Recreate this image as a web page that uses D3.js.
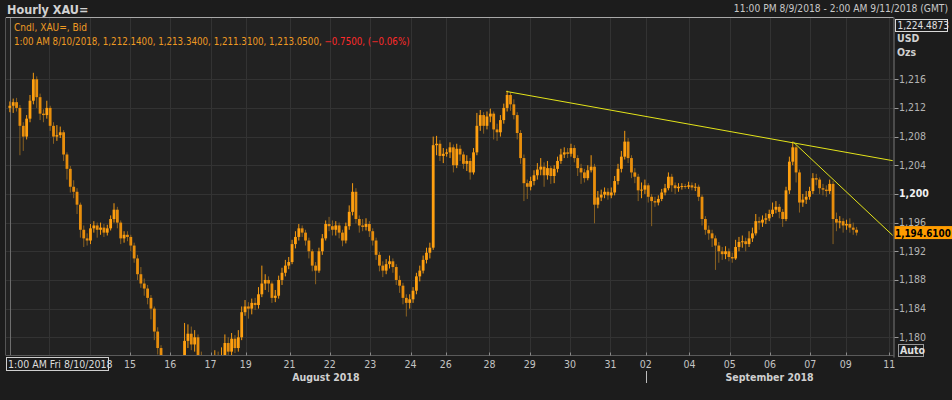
<!DOCTYPE html>
<html><head><meta charset="utf-8">
<script src="https://cdn.jsdelivr.net/npm/d3@7"></script>
<style>
html,body{margin:0;padding:0;background:#1c1c1c;}
svg{display:block;font-family:"DejaVu Sans Condensed","DejaVu Sans",sans-serif;}
</style></head><body>
<svg id="c" width="952" height="400"></svg>
<script>
// ---- data (2-hour candles) ----
const openP=[1212.0,1212.3,1212.8,1212.0,1209.5,1208.0,1210.5,1213.0,1216.0,1213.5,
1211.2,1211.0,1212.0,1209.5,1208.0,1208.2,1208.6,1205.5,1203.5,1201.0,
1200.3,1198.5,1195.0,1193.8,1193.5,1195.2,1195.6,1195.0,1195.3,1194.6,
1195.2,1196.5,1197.8,1196.0,1193.8,1194.3,1194.0,1192.8,1191.0,1188.8,
1187.5,1186.8,1185.5,1184.0,1180.8,1178.5,1176.5,1174.0,1172.0,1170.5,
1172.5,1174.0,1176.5,1179.5,1180.5,1179.0,1180.0,1177.5,1175.5,1174.5,
1176.0,1176.5,1177.0,1176.0,1177.2,1179.2,1178.0,1179.8,1178.5,1180.0,
1183.5,1184.3,1184.0,1184.8,1184.5,1186.0,1187.5,1188.0,1187.5,1185.5,
1185.8,1188.0,1189.0,1190.0,1190.5,1193.0,1194.0,1195.2,1194.6,1193.5,
1192.0,1190.0,1189.3,1192.0,1193.8,1195.8,1195.5,1195.0,1195.6,1194.6,
1193.5,1195.5,1197.5,1200.3,1196.5,1195.6,1195.4,1195.8,1194.8,1193.5,
1191.5,1190.0,1189.3,1190.2,1190.6,1189.8,1188.0,1187.2,1185.5,1184.8,
1185.3,1186.5,1188.5,1189.3,1190.8,1191.8,1192.5,1206.8,1207.0,1205.3,
1205.6,1205.8,1206.5,1204.0,1206.3,1205.5,1204.2,1204.6,1203.0,1205.8,
1209.5,1211.0,1209.5,1210.8,1211.2,1209.0,1208.6,1210.3,1212.0,1213.8,
1212.5,1211.0,1208.5,1205.0,1201.5,1201.0,1201.8,1202.6,1203.4,1203.8,
1202.6,1203.6,1202.5,1203.5,1204.6,1205.5,1205.8,1205.6,1206.4,1205.0,
1203.6,1203.0,1202.2,1203.3,1203.8,1198.5,1199.5,1199.9,1200.3,1199.8,
1200.2,1201.8,1203.5,1205.2,1207.3,1205.0,1203.0,1202.4,1200.5,1200.6,
1201.2,1199.6,1199.0,1198.8,1199.3,1200.2,1200.8,1202.4,1201.2,1200.8,
1201.0,1201.1,1201.0,1201.2,1200.9,1201.0,1199.6,1196.5,1195.0,1194.5,
1193.8,1192.8,1192.0,1191.6,1192.0,1191.2,1191.0,1192.6,1193.3,1193.4,
1193.0,1193.8,1194.5,1196.2,1196.0,1196.4,1196.6,1197.2,1197.8,1198.2,
1197.5,1196.5,1200.5,1204.5,1206.5,1203.0,1198.8,1199.2,1199.6,1200.4,
1202.2,1202.0,1200.8,1200.6,1200.4,1201.4,1196.5,1196.0,1196.2,1195.6,
1195.8,1195.3,1195.0];
const highP=[1212.9,1213.3,1213.4,1212.4,1210.0,1211.0,1213.8,1216.9,1216.4,1214.0,
1211.8,1213.0,1212.3,1210.0,1209.6,1209.4,1208.9,1205.8,1203.9,1201.9,
1200.8,1198.8,1195.6,1194.5,1195.8,1196.2,1196.0,1196.0,1195.8,1195.7,
1197.0,1198.7,1198.2,1196.3,1194.8,1194.8,1194.3,1193.2,1191.5,1189.8,
1188.2,1187.3,1185.9,1184.3,1181.4,1178.9,1177.0,1174.6,1172.8,1173.4,
1175.2,1177.3,1182.0,1181.8,1181.5,1181.0,1180.4,1178.0,1176.3,1176.8,
1177.4,1178.2,1178.0,1178.6,1180.4,1180.0,1180.6,1180.3,1181.0,1184.3,
1185.2,1184.9,1185.4,1185.5,1187.0,1190.0,1188.8,1188.5,1187.8,1186.6,
1188.6,1189.7,1190.8,1191.2,1193.6,1194.8,1195.8,1195.6,1195.0,1193.9,
1192.3,1190.5,1192.5,1194.4,1196.3,1196.8,1196.3,1196.2,1196.0,1195.0,
1196.0,1198.4,1201.5,1200.8,1197.0,1196.5,1196.6,1196.2,1195.2,1193.9,
1191.9,1190.6,1190.9,1191.4,1191.0,1190.2,1188.6,1187.6,1186.0,1186.0,
1187.0,1189.0,1190.0,1191.4,1192.5,1193.2,1208.0,1208.1,1207.5,1206.4,
1206.3,1207.2,1206.9,1207.0,1206.8,1205.9,1205.4,1205.0,1206.4,1211.3,
1211.7,1211.4,1211.5,1211.9,1211.5,1209.8,1211.0,1212.6,1214.4,1214.2,
1213.2,1211.4,1208.9,1205.5,1202.0,1202.4,1203.3,1204.3,1205.0,1204.4,
1204.6,1203.9,1204.0,1205.2,1206.3,1206.5,1206.4,1207.0,1206.8,1205.4,
1204.2,1203.5,1204.0,1205.4,1204.2,1200.4,1200.6,1200.9,1200.8,1200.9,
1202.5,1204.2,1206.0,1208.8,1207.8,1205.4,1203.6,1202.8,1201.6,1202.0,
1201.5,1200.0,1199.6,1199.8,1200.7,1201.4,1203.0,1202.8,1201.6,1201.5,
1201.5,1201.4,1201.7,1201.6,1201.5,1201.3,1199.9,1196.9,1195.6,1195.0,
1194.2,1193.3,1192.6,1192.7,1192.4,1191.8,1193.6,1194.0,1194.2,1193.9,
1194.8,1195.3,1197.2,1196.8,1197.0,1197.3,1197.8,1198.8,1199.0,1198.6,
1197.9,1201.0,1205.2,1207.3,1206.8,1203.4,1200.0,1200.4,1201.0,1202.9,
1202.8,1202.3,1201.4,1201.2,1202.0,1201.8,1197.4,1196.9,1196.6,1196.4,
1196.6,1196.0,1195.4];
const lowP=[1211.4,1211.3,1211.5,1205.4,1206.0,1207.6,1210.0,1212.5,1212.0,1210.3,
1210.0,1210.5,1208.8,1207.0,1207.4,1207.8,1204.6,1202.0,1200.2,1199.4,
1197.2,1193.9,1192.6,1192.8,1193.0,1194.6,1193.9,1194.3,1194.0,1194.2,
1194.9,1196.0,1195.2,1193.0,1193.2,1193.4,1192.0,1190.4,1188.0,1186.9,
1185.8,1184.6,1182.5,1179.6,1177.6,1175.4,1173.0,1170.8,1169.0,1169.8,
1171.8,1173.5,1176.0,1178.5,1178.2,1178.0,1176.3,1174.8,1173.6,1173.9,
1175.4,1175.8,1175.2,1175.5,1176.6,1177.0,1177.4,1177.8,1178.0,1179.6,
1183.0,1182.6,1183.2,1183.8,1184.0,1185.6,1186.6,1186.3,1184.8,1184.9,
1185.4,1187.3,1188.5,1189.5,1190.2,1192.4,1193.5,1194.0,1192.8,1191.0,
1189.2,1187.4,1189.0,1191.5,1193.5,1194.8,1194.2,1194.2,1193.8,1192.7,
1193.1,1195.0,1197.0,1195.9,1194.6,1194.8,1194.9,1194.0,1192.8,1190.8,
1189.2,1188.4,1188.8,1189.6,1189.0,1187.3,1186.2,1184.6,1182.9,1184.0,
1184.8,1186.0,1187.8,1188.9,1190.3,1191.0,1192.2,1205.4,1204.6,1204.3,
1205.2,1205.0,1203.0,1203.6,1204.6,1203.5,1203.2,1202.0,1202.7,1205.4,
1208.8,1208.4,1209.0,1210.0,1207.6,1207.4,1208.0,1209.8,1211.5,1211.6,
1210.4,1207.6,1204.2,1199.0,1199.3,1200.5,1201.2,1202.0,1202.6,1201.0,
1202.0,1201.4,1201.5,1203.0,1204.2,1205.0,1205.0,1205.2,1204.4,1202.5,
1201.4,1201.6,1201.9,1203.0,1195.9,1198.0,1199.0,1199.4,1199.2,1199.4,
1199.8,1201.3,1203.0,1204.8,1204.3,1202.2,1201.5,1199.0,1199.4,1200.0,
1198.8,1195.5,1198.2,1198.4,1199.0,1199.8,1200.5,1200.3,1200.0,1200.3,
1200.6,1200.7,1200.7,1200.5,1200.4,1199.0,1195.6,1194.3,1193.6,1192.6,
1189.4,1190.4,1190.8,1190.9,1190.6,1190.4,1190.8,1192.0,1192.5,1192.0,
1192.6,1193.3,1194.2,1195.0,1195.4,1195.8,1196.2,1196.8,1197.3,1196.6,
1195.4,1196.2,1200.0,1204.0,1201.6,1197.4,1198.2,1198.6,1199.2,1200.0,
1201.2,1200.0,1199.8,1199.6,1200.0,1193.0,1194.8,1195.2,1194.6,1195.0,
1194.6,1194.3,1194.2];
const closeP=[1212.3,1212.8,1212.0,1209.5,1208.0,1210.5,1213.0,1216.0,1213.5,1211.2,
1211.0,1212.0,1209.5,1208.0,1208.2,1208.6,1205.5,1203.5,1201.0,1200.3,
1198.5,1195.0,1193.8,1193.5,1195.2,1195.6,1195.0,1195.3,1194.6,1195.2,
1196.5,1197.8,1196.0,1193.8,1194.3,1194.0,1192.8,1191.0,1188.8,1187.5,
1186.8,1185.5,1184.0,1180.8,1178.5,1176.5,1174.0,1172.0,1170.5,1172.5,
1174.0,1176.5,1179.5,1180.5,1179.0,1180.0,1177.5,1175.5,1174.5,1176.0,
1176.5,1177.0,1176.0,1177.2,1179.2,1178.0,1179.8,1178.5,1180.0,1183.5,
1184.3,1184.0,1184.8,1184.5,1186.0,1187.5,1188.0,1187.5,1185.5,1185.8,
1188.0,1189.0,1190.0,1190.5,1193.0,1194.0,1195.2,1194.6,1193.5,1192.0,
1190.0,1189.3,1192.0,1193.8,1195.8,1195.5,1195.0,1195.6,1194.6,1193.5,
1195.5,1197.5,1200.3,1196.5,1195.6,1195.4,1195.8,1194.8,1193.5,1191.5,
1190.0,1189.3,1190.2,1190.6,1189.8,1188.0,1187.2,1185.5,1184.8,1185.3,
1186.5,1188.5,1189.3,1190.8,1191.8,1192.5,1206.8,1207.0,1205.3,1205.6,
1205.8,1206.5,1204.0,1206.3,1205.5,1204.2,1204.6,1203.0,1205.8,1209.5,
1211.0,1209.5,1210.8,1211.2,1209.0,1208.6,1210.3,1212.0,1213.8,1212.5,
1211.0,1208.5,1205.0,1201.5,1201.0,1201.8,1202.6,1203.4,1203.8,1202.6,
1203.6,1202.5,1203.5,1204.6,1205.5,1205.8,1205.6,1206.4,1205.0,1203.6,
1203.0,1202.2,1203.3,1203.8,1198.5,1199.5,1199.9,1200.3,1199.8,1200.2,
1201.8,1203.5,1205.2,1207.3,1205.0,1203.0,1202.4,1200.5,1200.6,1201.2,
1199.6,1199.0,1198.8,1199.3,1200.2,1200.8,1202.4,1201.2,1200.8,1201.0,
1201.1,1201.0,1201.2,1200.9,1201.0,1199.6,1196.5,1195.0,1194.5,1193.8,
1192.8,1192.0,1191.6,1192.0,1191.2,1191.0,1192.6,1193.3,1193.4,1193.0,
1193.8,1194.5,1196.2,1196.0,1196.4,1196.6,1197.2,1197.8,1198.2,1197.5,
1196.5,1200.5,1204.5,1206.5,1203.0,1198.8,1199.2,1199.6,1200.4,1202.2,
1202.0,1200.8,1200.6,1200.4,1201.4,1196.5,1196.0,1196.2,1195.6,1195.8,
1195.3,1195.0,1194.61];
const yTicks=[1180,1184,1188,1192,1196,1200,1204,1208,1212,1216];
const tickDates=["2018-08-15","2018-08-16","2018-08-17","2018-08-19","2018-08-21","2018-08-22","2018-08-23","2018-08-24","2018-08-26","2018-08-28","2018-08-29","2018-08-30","2018-08-31","2018-09-02","2018-09-04","2018-09-05","2018-09-06","2018-09-07","2018-09-09","2018-09-11"];
const gridOnlyDates=["2018-08-13","2018-08-14"];
const monthNames=["August 2018","September 2018"];
const rangeStart="2018-08-09T23:00:00Z", rangeEnd="2018-09-11T02:00:00Z";
const axisTop=1224.4873, lastPrice=1194.61;
const cursorTime="2018-08-10T01:00:00Z";
const cursorOHLC=[1212.14,1213.34,1211.31,1213.05];
const cursorChange=[-0.75,-0.06];
const trendLines=[
  [["2018-08-28T10:00:00Z",1214.3],["2018-09-11T02:00:00Z",1204.64]],
  [["2018-09-06T14:00:00Z",1207.2],["2018-09-11T02:00:00Z",1194.22]]
];

// ---- trading-hour timeline ----
const hours=[];
for(let t=+new Date(rangeStart); t<=+new Date(rangeEnd); t+=3600e3){
  const d=new Date(t), wd=d.getUTCDay(), h=d.getUTCHours();
  if(wd===6) continue; if(wd===5&&h>=21) continue; if(wd===0&&h<22) continue;
  hours.push(d);
}
const idxOf=s=>{const t=+new Date(s); return hours.findIndex(d=>+d>=t);};

const L=6, R=893.5, T=17.5, B=355.5;
const x=d3.scaleLinear().domain([0,hours.length-1]).range([9,892.7]);
const y=d3.scaleLinear().domain([1177.53,axisTop]).range([355,18.4]);

const svg=d3.select("#c");
svg.append("rect").attr("width",952).attr("height",400).attr("fill","#1c1c1c");
svg.append("rect").attr("x",L).attr("y",T).attr("width",R-L).attr("height",B-T).attr("fill","#222222");
svg.append("defs").append("clipPath").attr("id","clip").append("rect")
  .attr("x",L+0.5).attr("y",T+0.5).attr("width",R-L-1).attr("height",B-T-1);

// grid
const gridG=svg.append("g");
gridG.selectAll("line.h").data(yTicks).join("line")
  .attr("x1",L).attr("x2",R).attr("y1",d=>Math.round(y(d))+0.5).attr("y2",d=>Math.round(y(d))+0.5)
  .attr("stroke","#333333");
const vDates=gridOnlyDates.concat(tickDates);
gridG.selectAll("line.v").data(vDates).join("line")
  .attr("x1",d=>Math.round(x(idxOf(d+"T00:00:00Z")))+0.5).attr("x2",d=>Math.round(x(idxOf(d+"T00:00:00Z")))+0.5)
  .attr("y1",T).attr("y2",B).attr("stroke","#333333");

// cursor line
const cx0=Math.round(x(idxOf(cursorTime)))-1.5;
svg.append("line").attr("x1",cx0).attr("x2",cx0).attr("y1",T).attr("y2",B).attr("stroke","#6e6e6e");

// candles
const candles=closeP.map((c,k)=>({k,o:openP[k],h:highP[k],l:lowP[k],c}));
const cg=svg.append("g").attr("clip-path","url(#clip)");
const cw=2.8;
cg.selectAll("line.w").data(candles).join("line")
  .attr("x1",d=>x(2*d.k+0.5)).attr("x2",d=>x(2*d.k+0.5))
  .attr("y1",d=>y(d.h)).attr("y2",d=>y(d.l))
  .attr("stroke",d=>d.c>=d.o?"#f59a10":"#8a6222").attr("stroke-width",1);
cg.selectAll("rect.b").data(candles).join("rect")
  .attr("x",d=>x(2*d.k+0.5)-cw/2).attr("width",cw)
  .attr("y",d=>y(Math.max(d.o,d.c))).attr("height",d=>Math.max(1,Math.abs(y(d.o)-y(d.c))))
  .attr("fill",d=>d.c>=d.o?"#ffa010":"#e88e0c");

// trend lines
cg.selectAll("line.t").data(trendLines).join("line")
  .attr("x1",d=>x(idxOf(d[0][0]))).attr("y1",d=>y(d[0][1]))
  .attr("x2",d=>x(idxOf(d[1][0]))).attr("y2",d=>y(d[1][1]))
  .attr("stroke","#e4e41a").attr("stroke-width",1);

// frame
svg.append("line").attr("x1",L).attr("x2",R).attr("y1",T).attr("y2",T).attr("stroke","#a8a8a8");
svg.append("line").attr("x1",L-0.5).attr("x2",L-0.5).attr("y1",T).attr("y2",B).attr("stroke","#555");
svg.append("line").attr("x1",L).attr("x2",R).attr("y1",B).attr("y2",B).attr("stroke","#5a5a5a");
svg.append("line").attr("x1",R+0.5).attr("x2",R+0.5).attr("y1",T).attr("y2",B+2).attr("stroke","#7a7a7a");

// y axis
const yg=svg.append("g");
yg.selectAll("line").data(yTicks).join("line")
  .attr("x1",R+1).attr("x2",R+5).attr("y1",d=>Math.round(y(d))+0.5).attr("y2",d=>Math.round(y(d))+0.5).attr("stroke","#9a9a9a");
yg.selectAll("text").data(yTicks).join("text")
  .attr("x",899).attr("y",d=>y(d)+3.5)
  .attr("font-size",10.5).attr("font-weight",d=>d===1200?"bold":"normal")
  .attr("fill",d=>d===1200?"#f0f0f0":"#b4b4b4").text(d=>d3.format(",")(d));

// price tag
const ty=y(lastPrice);
svg.append("rect").attr("x",R+1).attr("y",ty-6.5).attr("width",57.5).attr("height",13).attr("fill","#ff9c00");
svg.append("text").attr("x",R+1.5).attr("y",ty+4).attr("font-size",9.8).attr("font-weight","bold").attr("fill","#000")
  .text(d3.format(",.4f")(lastPrice));

// top value box
svg.append("rect").attr("x",895.5).attr("y",19.5).attr("width",52).attr("height",12).attr("fill","#1c1c1c").attr("stroke","#d8d8d8");
svg.append("text").attr("x",897.5).attr("y",29.3).attr("font-size",10).attr("fill","#e0e0e0").text(d3.format(",.4f")(axisTop));
svg.append("text").attr("x",897).attr("y",42).attr("font-size",10.5).attr("font-weight","bold").attr("fill","#d0d0d0").text("USD");
svg.append("text").attr("x",897).attr("y",56).attr("font-size",10.5).attr("font-weight","bold").attr("fill","#d0d0d0").text("Ozs");

// Auto box
svg.append("rect").attr("x",898.5).attr("y",344.5).attr("width",25).attr("height",12).attr("fill","#1c1c1c").attr("stroke","#9a9a9a");
svg.append("text").attr("x",900).attr("y",354).attr("font-size",10.5).attr("font-weight","bold").attr("fill","#e0e0e0").text("Auto");

// x axis ticks & labels
const xg=svg.append("g");
xg.selectAll("line").data(tickDates).join("line")
  .attr("x1",d=>Math.round(x(idxOf(d+"T00:00:00Z")))+0.5).attr("x2",d=>Math.round(x(idxOf(d+"T00:00:00Z")))+0.5)
  .attr("y1",B-3).attr("y2",B).attr("stroke","#8a8a8a");
xg.selectAll("text").data(tickDates).join("text")
  .attr("x",d=>x(idxOf(d+"T00:00:00Z"))).attr("y",368).attr("text-anchor","middle")
  .attr("font-size",10.5).attr("fill","#c4c4c4").text(d=>d.slice(8,10));

// month labels
const sepIdx=idxOf("2018-09-01T00:00:00Z");
const months=[{name:monthNames[0],a:L,b:x(sepIdx)},{name:monthNames[1],a:x(sepIdx),b:R}];
svg.selectAll("text.m").data(months).join("text")
  .attr("x",d=>(d.a+d.b)/2).attr("y",381).attr("text-anchor","middle")
  .attr("font-size",10.5).attr("font-weight","bold").attr("fill","#cfcfcf").text(d=>d.name);
svg.append("line").attr("x1",Math.round(x(sepIdx))+0.5).attr("x2",Math.round(x(sepIdx))+0.5)
  .attr("y1",371).attr("y2",383).attr("stroke","#bdbdbd");

// cursor label
const fmtCur=d3.utcFormat("%-I:%M %p %a %-m/%-d/%Y");
svg.append("rect").attr("x",6.5).attr("y",357.5).attr("width",102).attr("height",13).attr("fill","#1c1c1c").attr("stroke","#cfcfcf");
svg.append("text").attr("x",8).attr("y",368).attr("font-size",10.5).attr("fill","#dcdcdc").text(fmtCur(new Date(cursorTime)));

// header
svg.append("text").attr("x",7).attr("y",13.5).attr("font-size",12.5).attr("font-weight","bold").attr("fill","#d2d2d2").text("Hourly XAU=");
const fmtR=d3.utcFormat("%-I:%M %p %-m/%-d/%Y");
svg.append("text").attr("x",948).attr("y",12).attr("text-anchor","end").attr("font-size",10.2).attr("fill","#c8c8c8")
  .text(fmtR(new Date(rangeStart))+" - "+fmtR(new Date(rangeEnd))+" (GMT)");
svg.append("text").attr("x",14).attr("y",31).attr("font-size",10.1).attr("fill","#ee9a22").text("Cndl, XAU=, Bid");
const info=svg.append("text").attr("x",14).attr("y",45).attr("font-size",9.7);
info.append("tspan").attr("fill","#ee9a22")
  .text(fmtR(new Date(cursorTime))+", "+cursorOHLC.map(v=>d3.format(",.4f")(v)).join(", ")+", ");
info.append("tspan").attr("fill","#ff2a2a")
  .text(d3.format(".4f")(cursorChange[0])+", ("+d3.format(".2f")(cursorChange[1])+"%)");
</script>
</body></html>
